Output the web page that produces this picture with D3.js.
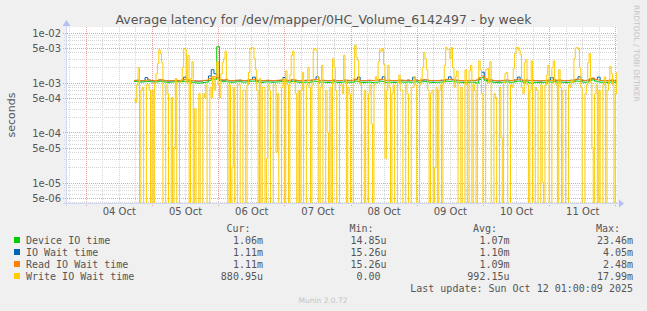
<!DOCTYPE html>
<html><head><meta charset="utf-8">
<script src="https://cdn.jsdelivr.net/npm/d3@7"></script>
<style>
html,body{margin:0;padding:0;background:#F0F0F0;}
svg{display:block;}
</style></head><body>
<svg id="chart" width="647" height="311"></svg>
<script>
const title = "Average latency for /dev/mapper/0HC_Volume_6142497 - by week";
const yAxisLabel = "seconds";
const seriesNames = ["Device IO time", "IO Wait time", "Read IO Wait time", "Write IO Wait time"];
const seriesColors = ["#00CC00", "#0066B3", "#FF8000", "#FFCC00"];
const legendHeaders = ["Cur:", "Min:", "Avg:", "Max:"];
const legendCur = ["1.06m", "1.11m", "1.11m", "880.95u"];
const legendMin = ["14.85u", "15.26u", "15.26u", "0.00 "];
const legendAvg = ["1.07m", "1.10m", "1.09m", "992.15u"];
const legendMax = ["23.46m", "4.05m", "2.48m", "17.99m"];
const lastUpdate = "Last update: Sun Oct 12 01:00:09 2025";
const watermark = "Munin 2.0.72";
const sideText = "RRDTOOL / TOBI OETIKER";
const yTickValues = [1e-2, 5e-3, 1e-3, 5e-4, 1e-4, 5e-5, 1e-5, 5e-6];
const yTickLabels = ["1e-02", "5e-03", "1e-03", "5e-04", "1e-04", "5e-05", "1e-05", "5e-06"];
const xTickDays = ["2025-10-04", "2025-10-05", "2025-10-06", "2025-10-07", "2025-10-08", "2025-10-09", "2025-10-10", "2025-10-11"];
const viewStart = "2025-10-03T17:13:00Z";
const viewEnd = "2025-10-12T00:37:00Z";
const dataStart = "2025-10-04T17:30:00Z";
// hourly samples, milliseconds
const deviceIoMs = [
1.05,1.04,1.02,1.03,1.04,1.05,1.03,1.02,1.03,1.06,
1.04,1.02,1.01,1.02,1.03,1.04,1.03,1.04,1.06,1.05,
1.02,1.00,0.98,0.97,0.98,1.00,1.02,1.10,1.20,1.15,
5.20,1.08,1.04,1.06,1.02,1.01,1.02,1.03,1.04,1.02,
1.02,1.03,1.06,1.07,1.04,1.02,1.00,1.02,1.03,1.02,
1.01,1.02,1.03,1.04,1.05,1.03,1.02,1.05,1.04,1.02,
1.00,1.01,1.02,1.00,1.03,1.06,1.05,1.01,1.02,1.01,
1.00,1.01,1.03,1.01,1.00,1.01,1.03,1.02,1.01,1.01,
1.07,1.04,1.01,1.00,1.01,1.02,1.00,0.99,1.02,1.06,
1.05,1.00,1.02,1.01,1.00,1.01,1.03,1.02,1.01,1.03,
1.01,1.02,1.03,1.01,1.03,1.05,1.03,1.01,1.00,1.01,
1.01,1.02,1.03,1.06,1.05,1.07,1.03,1.02,1.01,1.00,
1.01,1.00,1.02,1.01,0.97,1.15,1.25,1.10,1.03,1.04,
1.01,1.00,0.99,1.01,1.02,1.03,1.01,1.01,1.05,1.07,
1.04,1.01,1.03,0.98,0.96,1.01,1.00,0.99,1.01,1.01,
1.03,1.01,1.04,1.02,1.03,1.01,1.00,1.01,1.02,1.03,
1.07,1.06,1.03,1.01,1.02,1.09,1.13,1.06,1.03,1.01,
1.01,1.00,1.02,1.03,1.01,1.02];
const ioWaitMs = [
1.09,1.11,1.08,1.09,1.25,1.12,1.09,1.08,1.09,1.13,
1.11,1.09,1.07,1.08,1.09,1.10,1.09,1.11,1.28,1.12,
1.09,1.08,1.07,1.06,1.07,1.09,1.10,1.35,1.80,1.50,
1.25,1.14,1.11,1.13,1.09,1.08,1.09,1.10,1.11,1.09,
1.09,1.10,1.14,1.28,1.11,1.09,1.08,1.09,1.10,1.09,
1.08,1.09,1.10,1.11,1.26,1.10,1.09,1.13,1.11,1.09,
1.08,1.09,1.10,1.09,1.11,1.14,1.30,1.09,1.10,1.09,
1.08,1.09,1.11,1.09,1.08,1.09,1.11,1.10,1.09,1.09,
1.15,1.28,1.09,1.08,1.09,1.10,1.09,1.09,1.11,1.14,
1.30,1.09,1.10,1.09,1.08,1.09,1.11,1.10,1.09,1.11,
1.09,1.27,1.11,1.09,1.11,1.13,1.11,1.09,1.08,1.09,
1.09,1.10,1.11,1.14,1.30,1.15,1.11,1.10,1.09,1.08,
1.09,1.08,1.10,1.09,1.11,1.24,1.60,1.19,1.11,1.12,
1.09,1.08,1.07,1.09,1.10,1.11,1.09,1.09,1.13,1.28,
1.12,1.09,1.11,1.09,1.10,1.09,1.08,1.07,1.09,1.09,
1.11,1.26,1.12,1.10,1.11,1.09,1.08,1.09,1.10,1.11,
1.15,1.30,1.11,1.09,1.10,1.17,1.21,1.14,1.28,1.09,
1.09,1.08,1.10,1.11,1.09,1.10];
const readWaitMs = [
1.10,1.12,1.09,1.10,1.11,1.13,1.10,1.09,1.10,1.14,
1.12,1.10,1.08,1.09,1.10,1.11,1.10,1.12,1.15,1.13,
1.10,1.09,1.08,1.07,1.08,1.10,1.11,1.20,1.32,1.30,
1.22,1.15,1.12,1.14,1.10,1.09,1.10,1.11,1.12,1.10,
1.10,1.11,1.15,1.16,1.12,1.10,1.09,1.10,1.11,1.10,
1.09,1.10,1.11,1.12,1.13,1.11,1.10,1.14,1.12,1.10,
1.09,1.10,1.11,1.10,1.12,1.15,1.14,1.10,1.11,1.10,
1.09,1.10,1.12,1.10,1.09,1.10,1.12,1.11,1.10,1.10,
1.16,1.13,1.10,1.09,1.10,1.11,1.10,1.10,1.12,1.15,
1.14,1.10,1.11,1.10,1.09,1.10,1.12,1.11,1.10,1.12,
1.10,1.11,1.12,1.10,1.12,1.14,1.12,1.10,1.09,1.10,
1.10,1.11,1.12,1.15,1.14,1.16,1.12,1.11,1.10,1.09,
1.10,1.09,1.11,1.10,1.12,1.25,1.35,1.20,1.12,1.13,
1.10,1.09,1.08,1.10,1.11,1.12,1.10,1.10,1.14,1.16,
1.13,1.10,1.12,1.10,1.11,1.10,1.09,1.08,1.10,1.10,
1.12,1.10,1.13,1.11,1.12,1.10,1.09,1.10,1.11,1.12,
1.16,1.15,1.12,1.10,1.11,1.18,1.22,1.15,1.12,1.10,
1.10,1.09,1.11,1.12,1.10,1.11];
// half-hourly samples, milliseconds (0 = no write wait)
const writeWaitMs = [
0.45,0.4, 0.9,2.0, 0,0.7, 0.8,0, 0,0.9, 0.9,0.7, 0,0.7, 0,1.0, 1.5,2.4, 4.5,3.8,
2.5,0, 0,0.9, 0.6,0, 0,0.5, 0,0.05, 1.2,0, 0,1.0, 1.1,2.0, 4.8,4.5, 1.0,3.5,
0,1.2, 2.6,0, 0.3,0, 0,0.6, 0,0, 0.6,0.5, 0.9,0, 0,0.8, 0.5,1.3, 0.7,1.3,
2.6,0.9, 0.5,1.5, 2.5,3.0, 4.2,1.2, 0,0.9, 0,0.02, 0.8,0, 0,0.9, 0.9,0, 0,0.7,
0.7,0, 0.9,1.6, 4.8,5.0, 4.9,3.0, 1.8,0.7, 0,1.2, 0,0.8, 0.8,0, 0.03,0.9, 0.7,0,
0,0.9, 0.9,0.04, 0.6,0, 0,0.8, 1.2,0, 1.7,0.9, 0,1.4, 3.5,4.2, 1.0,0.6, 0,0.7,
0,0.7, 1.6,0, 0,0.9, 2.0,0.8, 0,0.9, 4.5,4.8, 4.3,1.3, 0,0.8, 2.2,0, 0,0.7,
0.1,0, 0.8,0, 3.0,2.0, 0.7,0, 0,0.9, 0.9,0.6, 3.5,1.1, 0,0.8, 0.6,0, 0,1.2,
5.6,3.2, 2.8,1.0, 0.9,0, 0,0.7, 0,0, 0.6,0.9, 0.15,0, 0.9,1.3, 1.1,2.6, 4.5,4.2,
4.8,2.3, 0.03,0.7, 2.2,0.8, 0,0.6, 0.9,0, 0,1.0, 1.4,0.7, 0.7,0, 0,0.9, 0.6,0,
0,0.8, 0.8,1.3, 0.9,0, 0,0.9, 1.2,2.0, 4.0,3.0, 1.8,0.7, 0,0.6, 0.7,0, 0.02,0.8,
0,0.7, 0.9,0, 1.0,2.2, 5.0,4.5, 4.6,3.0, 5.0,2.0, 0.8,1.3, 1.7,0, 0,0.8, 0,0,
1.8,0.9, 0,1.7, 2.2,0, 0.9,0.7, 0,1.2, 2.7,1.8, 0.6,0, 0,1.8, 1.9,1.0, 2.6,0,
0,0.6, 0.5,0, 0,0.8, 0.08,0, 1.0,1.5, 1.6,0, 0,0.9, 0.8,1.9, 3.8,5.0, 5.0,4.4,
3.6,0.8, 0.6,2.5, 2.9,0.9, 0,0.7, 2.7,0, 0,0.8, 0.7,0, 0,0.9, 0.01,0, 0.9,1.4,
2.2,0, 0,2.0, 2.7,1.0, 0.9,0, 1.8,0.8, 0,0.7, 0.7,0, 0,0.9, 0.8,1.1, 1.0,3.0,
4.9,5.0, 4.6,2.0, 0.8,0, 0,0.6, 0.9,2.5, 3.8,1.0, 0.05,0, 0.6,0.9, 0,0.7, 0,0,
0.9,1.3, 0,0.7, 1.1,2.1, 1.5,0.9, 0,0.6, 1.6,0.8];

const SANS = "DejaVu Sans", MONO = "DejaVu Sans Mono";
const svg = d3.select("#chart");
const W = 647, H = 311;
const plot = {left: 67, right: 617, top: 27, bottom: 203};

const x = d3.scaleUtc().domain([new Date(viewStart), new Date(viewEnd)]).range([plot.left, plot.right]);
const y = d3.scaleLog().domain([1e-5, 1e-2]).range([182.5, 32.5]);

svg.append("rect").attr("width", W).attr("height", H).attr("fill", "#F0F0F0");
svg.append("rect").attr("x", plot.left - 1).attr("y", plot.top).attr("width", plot.right - plot.left + 1)
  .attr("height", plot.bottom - plot.top).attr("fill", "#FFFFFF");

const grid = svg.append("g").attr("shape-rendering", "crispEdges");
const minor = [], major = [];
for (let d = -6; d <= -2; d++) {
  for (let m = 1; m <= 9; m++) {
    const v = m * Math.pow(10, d);
    const py = y(v);
    if (py < plot.top || py > plot.bottom) continue;
    if (m === 1 || m === 5) major.push(v); else minor.push(v);
  }
}
grid.selectAll("line.hmin").data(minor).join("line")
  .attr("x1", 64).attr("x2", plot.right)
  .attr("y1", d => Math.round(y(d)) + 0.5).attr("y2", d => Math.round(y(d)) + 0.5)
  .attr("stroke", "#d6d6d6").attr("stroke-dasharray", "1,1");
const t0 = new Date(viewStart), t1 = new Date(viewEnd);
const sixHours = d3.utcHour.every(6).range(t0, t1);
const vmin = sixHours.filter(t => t.getUTCHours() !== 0);
const vmaj = sixHours.filter(t => t.getUTCHours() === 0);
grid.selectAll("line.vmin").data(vmin).join("line")
  .attr("x1", d => Math.round(x(d)) + 0.5).attr("x2", d => Math.round(x(d)) + 0.5)
  .attr("y1", plot.top).attr("y2", plot.bottom)
  .attr("stroke", "#d6d6d6").attr("stroke-dasharray", "1,1");
grid.selectAll("line.hmaj").data(major).join("line")
  .attr("x1", 63).attr("x2", plot.right)
  .attr("y1", d => Math.round(y(d)) + 0.5).attr("y2", d => Math.round(y(d)) + 0.5)
  .attr("stroke", "#eea0a0").attr("stroke-dasharray", "1,1");
grid.selectAll("line.vmaj").data(vmaj).join("line")
  .attr("x1", d => Math.round(x(d)) + 0.5).attr("x2", d => Math.round(x(d)) + 0.5)
  .attr("y1", plot.top).attr("y2", plot.bottom + 3)
  .attr("stroke", "#eea0a0").attr("stroke-dasharray", "1,1");

// data
svg.append("clipPath").attr("id", "clip").append("rect")
  .attr("x", plot.left).attr("y", plot.top).attr("width", plot.right - plot.left).attr("height", plot.bottom - plot.top);
const start = new Date(dataStart);
function toSeries(arr, stepMin) {
  const pts = arr.map((v, i) => ({t: d3.utcMinute.offset(start, i * stepMin), v: v / 1000}));
  pts.push({t: d3.utcMinute.offset(start, arr.length * stepMin), v: arr[arr.length - 1] / 1000});
  return pts;
}
const line = d3.line()
  .x(d => x(d.t))
  .y(d => d.v > 0 ? y(d.v) : plot.bottom + 2)
  .curve(d3.curveStepAfter);
const allSeries = [[deviceIoMs, 60], [ioWaitMs, 60], [readWaitMs, 60], [writeWaitMs, 30]];
const dg = svg.append("g").attr("clip-path", "url(#clip)");
allSeries.forEach(([arr, step], k) => {
  dg.append("path").datum(toSeries(arr, step)).attr("d", line)
    .attr("fill", "none").attr("stroke", seriesColors[k]).attr("stroke-width", 1);
});

// axes
const axisColor = "#CFD6F8", arrowColor = "#B4C0F4";
const ax = svg.append("g").attr("shape-rendering", "crispEdges");
ax.append("line").attr("x1", 63).attr("x2", 619).attr("y1", plot.bottom + 0.5).attr("y2", plot.bottom + 0.5).attr("stroke", axisColor);
ax.append("line").attr("x1", 66.5).attr("x2", 66.5).attr("y1", plot.bottom + 3).attr("y2", 25).attr("stroke", axisColor);
svg.append("path").attr("d", `M619,${plot.bottom - 3.5} L624,${plot.bottom + 0.5} L619,${plot.bottom + 4.5} Z`).attr("fill", arrowColor);
svg.append("path").attr("d", `M62.5,26 L66.5,20 L70.5,26 Z`).attr("fill", arrowColor);

// y ticks
const yAxis = d3.axisLeft(y).tickValues(yTickValues).tickFormat((d, i) => yTickLabels[i]).tickSize(0).tickPadding(0);
const yg = svg.append("g").attr("transform", "translate(61,0)").call(yAxis);
yg.select(".domain").remove();
yg.selectAll("text").attr("fill", "#555").attr("font-family", SANS).attr("font-size", 10).attr("dy", "0.36em");

// x ticks
const xTicks = xTickDays.map(s => new Date(s + "T12:00:00Z"));
const xAxis = d3.axisBottom(x).tickValues(xTicks).tickFormat(d3.utcFormat("%d %b")).tickSize(0).tickPadding(0);
const xg = svg.append("g").attr("transform", "translate(0,208)").call(xAxis);
xg.select(".domain").remove();
xg.selectAll("text").attr("fill", "#555").attr("font-family", SANS).attr("font-size", 10).attr("dy", "0.71em");

// title and other texts
svg.append("text").attr("x", 323.5).attr("y", 24).attr("text-anchor", "middle")
  .attr("fill", "#555").attr("font-family", SANS).attr("font-size", 12.5).text(title);
svg.append("text").attr("transform", "translate(15,115) rotate(-90)").attr("text-anchor", "middle")
  .attr("fill", "#555").attr("font-family", SANS).attr("font-size", 11).text(yAxisLabel);
svg.append("text").attr("transform", "translate(634,5) rotate(90)").attr("text-anchor", "start")
  .attr("fill", "#c4c4c4").attr("font-family", SANS).attr("font-size", 7.5).text(sideText);
svg.append("text").attr("x", 323).attr("y", 303).attr("text-anchor", "middle")
  .attr("fill", "#c4c4c4").attr("font-family", SANS).attr("font-size", 7.5).text(watermark);

// legend
const lg = svg.append("g");
const mono = sel => sel.attr("font-family", MONO).attr("font-size", 10).attr("fill", "#555").style("white-space", "pre");
const headerRight = [250.5, 373.5, 497, 620];
const valueRight = [263, 386.5, 509.5, 633];
legendHeaders.forEach((h, i) => {
  lg.append("text").attr("x", headerRight[i]).attr("y", 231.5).attr("text-anchor", "end").call(mono).text(h);
});
const cols = [legendCur, legendMin, legendAvg, legendMax];
seriesNames.forEach((name, r) => {
  const cy = 240 + r * 12;
  lg.append("rect").attr("x", 14).attr("y", cy - 3).attr("width", 6).attr("height", 6).attr("fill", seriesColors[r]);
  lg.append("text").attr("x", 26).attr("y", cy + 3.5).call(mono).text(name);
  cols.forEach((col, c) => {
    lg.append("text").attr("x", valueRight[c]).attr("y", cy + 3.5).attr("text-anchor", "end").call(mono).text(col[r]);
  });
});
lg.append("text").attr("x", 633).attr("y", 291.5).attr("text-anchor", "end").call(mono).text(lastUpdate);
</script>
</body></html>
